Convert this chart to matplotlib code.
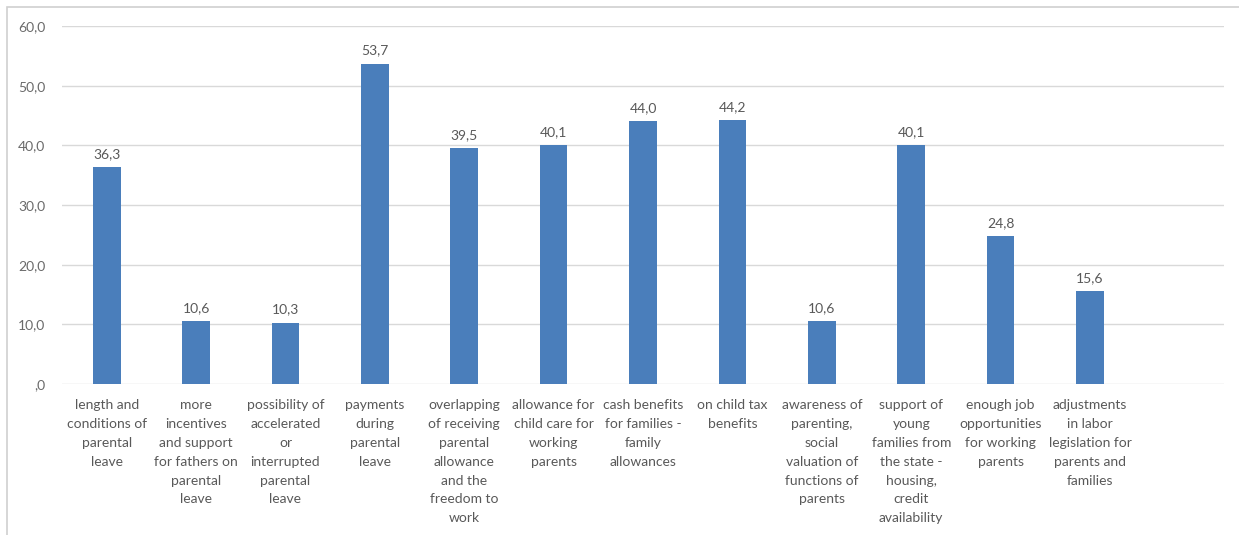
import matplotlib.pyplot as plt
from matplotlib.patches import Rectangle
from matplotlib.ticker import FuncFormatter

categories = [
    "length and\nconditions of\nparental\nleave",
    "more\nincentives\nand support\nfor fathers on\nparental\nleave",
    "possibility of\naccelerated\nor\ninterrupted\nparental\nleave",
    "payments\nduring\nparental\nleave",
    "overlapping\nof receiving\nparental\nallowance\nand the\nfreedom to\nwork",
    "allowance for\nchild care for\nworking\nparents",
    "cash benefits\nfor families -\nfamily\nallowances",
    "on child tax\nbenefits",
    "awareness of\nparenting,\nsocial\nvaluation of\nfunctions of\nparents",
    "support of\nyoung\nfamilies from\nthe state -\nhousing,\ncredit\navailability",
    "enough job\nopportunities\nfor working\nparents",
    "adjustments\nin labor\nlegislation for\nparents and\nfamilies",
]
values = [36.3, 10.6, 10.3, 53.7, 39.5, 40.1, 44.0, 44.2, 10.6, 40.1, 24.8, 15.6]
yticks = [0, 10, 20, 30, 40, 50, 60]

plt.rcParams['font.family'] = ['Lato', 'DejaVu Sans']

fig = plt.figure(figsize=(12.39, 5.35), dpi=100)
ax = fig.add_axes([0.050, 0.2822, 0.938, 0.6692])

# outer chart frame
fig.patches.append(Rectangle((7 / 1239, -0.1), 1.2, 1 - 7 / 535 + 0.1,
                             transform=fig.transFigure, fill=False,
                             edgecolor='#d0d0d0', linewidth=1.2))

x = list(range(len(values)))
ax.bar(x, values, width=0.31, color='#4a7ebb', zorder=3)

for xi, v in zip(x, values):
    ax.annotate(f"{v:.1f}".replace('.', ','), (xi, v), xytext=(0, 5),
                textcoords='offset points', ha='center', va='bottom',
                fontsize=10, color='#595959')

ax.set_xlim(-0.5, len(values) + 0.5)
ax.set_ylim(0, 60)
ax.set_yticks(yticks)
ax.yaxis.set_major_formatter(FuncFormatter(
    lambda v, p: ",0" if v == 0 else f"{v:.1f}".replace('.', ',')))
ax.set_xticks(x)
ax.set_xticklabels(categories, fontsize=10, color='#595959',
                   linespacing=1.68, va='top')
ax.tick_params(axis='x', length=0, pad=11)
ax.tick_params(axis='y', length=0, pad=12, labelsize=10, labelcolor='#6a6a6a')

ax.grid(axis='y', color='#d9d9d9', linewidth=1, zorder=0)
for s in ax.spines.values():
    s.set_visible(False)

fig.savefig('out.png', dpi=100)
